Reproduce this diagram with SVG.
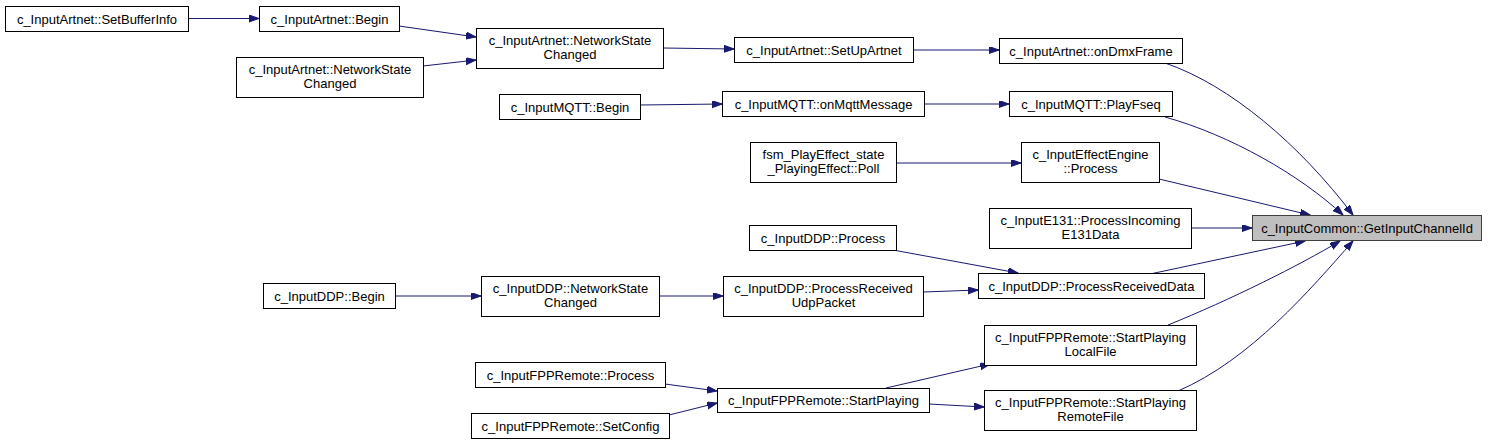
<svg xmlns="http://www.w3.org/2000/svg" width="1488" height="444" viewBox="0 0 1488 444">
<style>
.n rect{fill:#ffffff;stroke:#000000;stroke-width:1}
.n.hl rect{fill:#bfbfbf;stroke:#404040}
.n text{font-family:"Liberation Sans",Arial,sans-serif;font-size:13px;fill:#000000;text-anchor:middle}
.e path{fill:none;stroke:#191970;stroke-width:1;marker-end:url(#ah)}
</style>
<defs>
<marker id="ah" markerUnits="userSpaceOnUse" markerWidth="11" markerHeight="8" refX="10" refY="3.5" orient="auto">
<path d="M0,0 L10,3.5 L0,7 z" fill="#191970" stroke="#191970" stroke-width="1"/>
</marker>
</defs>
<rect width="1488" height="444" fill="#ffffff"/>
<g id="connectors" class="e">
<path d="M188,18.5 L259,18.5"/>
<path d="M399,26 L476,37"/>
<path d="M423,66 L476,60"/>
<path d="M663,48 L734,49"/>
<path d="M913,50 L999,50"/>
<path d="M1165,63 C1230,85 1300,145 1353,215"/>
<path d="M640,105 L722,104"/>
<path d="M924,104 L1009,104"/>
<path d="M1165,117 C1230,135 1300,175 1343,215"/>
<path d="M896,163 L1021,163"/>
<path d="M1159,179 L1310,215"/>
<path d="M1191,228 L1252,228"/>
<path d="M893,250 L1018,273"/>
<path d="M923,292 L978,290"/>
<path d="M1150,274 L1305,241"/>
<path d="M395,296 L481,296"/>
<path d="M659,296 L723,296"/>
<path d="M1168,325 C1230,300 1300,265 1340,241"/>
<path d="M1178,391 C1250,360 1310,290 1353,241"/>
<path d="M665,384 L717,391"/>
<path d="M669,415 L717,403"/>
<path d="M886,388 L990,364"/>
<path d="M929,404 L984,407"/>
</g>
<g id="n_setbufferinfo" class="n"><rect x="5.5" y="6.5" width="183" height="25"/><text x="97" y="23.5">c_InputArtnet::SetBufferInfo</text></g>
<g id="n_artnet_begin" class="n"><rect x="259.5" y="6.5" width="140" height="25"/><text x="329.5" y="23.5">c_InputArtnet::Begin</text></g>
<g id="n_artnet_nsc1" class="n"><rect x="476.5" y="28.5" width="187" height="40"/><text x="570" y="45">c_InputArtnet::NetworkState</text><text x="570" y="59">Changed</text></g>
<g id="n_artnet_nsc2" class="n"><rect x="236.5" y="57.5" width="187" height="40"/><text x="330" y="74">c_InputArtnet::NetworkState</text><text x="330" y="88">Changed</text></g>
<g id="n_setupartnet" class="n"><rect x="734.5" y="37.5" width="179" height="25"/><text x="824" y="54.5">c_InputArtnet::SetUpArtnet</text></g>
<g id="n_ondmxframe" class="n"><rect x="999.5" y="38.5" width="183" height="25"/><text x="1091" y="55.5">c_InputArtnet::onDmxFrame</text></g>
<g id="n_mqtt_begin" class="n"><rect x="499.5" y="94.5" width="141" height="25"/><text x="570" y="111.5">c_InputMQTT::Begin</text></g>
<g id="n_onmqttmessage" class="n"><rect x="722.5" y="91.5" width="202" height="25"/><text x="823.5" y="108.5">c_InputMQTT::onMqttMessage</text></g>
<g id="n_playfseq" class="n"><rect x="1009.5" y="91.5" width="163" height="25"/><text x="1091" y="108.5">c_InputMQTT::PlayFseq</text></g>
<g id="n_fsm_poll" class="n"><rect x="750.5" y="142.5" width="146" height="40"/><text x="823.5" y="159">fsm_PlayEffect_state</text><text x="823.5" y="173">_PlayingEffect::Poll</text></g>
<g id="n_effectengine" class="n"><rect x="1021.5" y="142.5" width="138" height="40"/><text x="1090.5" y="159">c_InputEffectEngine</text><text x="1090.5" y="173">::Process</text></g>
<g id="n_e131" class="n"><rect x="989.5" y="208.5" width="202" height="40"/><text x="1090.5" y="225">c_InputE131::ProcessIncoming</text><text x="1090.5" y="239">E131Data</text></g>
<g id="n_getinputchannelid" class="n hl"><rect x="1252.5" y="215.5" width="229" height="25"/><text x="1367" y="232.5">c_InputCommon::GetInputChannelId</text></g>
<g id="n_ddp_process" class="n"><rect x="749.5" y="225.5" width="147" height="25"/><text x="823" y="242.5">c_InputDDP::Process</text></g>
<g id="n_ddp_begin" class="n"><rect x="263.5" y="283.5" width="132" height="25"/><text x="329.5" y="300.5">c_InputDDP::Begin</text></g>
<g id="n_ddp_nsc" class="n"><rect x="481.5" y="276.5" width="178" height="40"/><text x="570.5" y="293">c_InputDDP::NetworkState</text><text x="570.5" y="307">Changed</text></g>
<g id="n_ddp_udppacket" class="n"><rect x="723.5" y="276.5" width="200" height="40"/><text x="823.5" y="293">c_InputDDP::ProcessReceived</text><text x="823.5" y="307">UdpPacket</text></g>
<g id="n_ddp_receiveddata" class="n"><rect x="978.5" y="273.5" width="226" height="25"/><text x="1091.5" y="290.5">c_InputDDP::ProcessReceivedData</text></g>
<g id="n_fpp_localfile" class="n"><rect x="984.5" y="325.5" width="212" height="40"/><text x="1090.5" y="342">c_InputFPPRemote::StartPlaying</text><text x="1090.5" y="356">LocalFile</text></g>
<g id="n_fpp_process" class="n"><rect x="475.5" y="362.5" width="190" height="25"/><text x="570.5" y="379.5">c_InputFPPRemote::Process</text></g>
<g id="n_fpp_startplaying" class="n"><rect x="717.5" y="388.5" width="212" height="24"/><text x="823.5" y="405">c_InputFPPRemote::StartPlaying</text></g>
<g id="n_fpp_setconfig" class="n"><rect x="471.5" y="413.5" width="198" height="25"/><text x="570.5" y="430.5">c_InputFPPRemote::SetConfig</text></g>
<g id="n_fpp_remotefile" class="n"><rect x="984.5" y="390.5" width="212" height="40"/><text x="1090.5" y="407">c_InputFPPRemote::StartPlaying</text><text x="1090.5" y="421">RemoteFile</text></g>
</svg>
